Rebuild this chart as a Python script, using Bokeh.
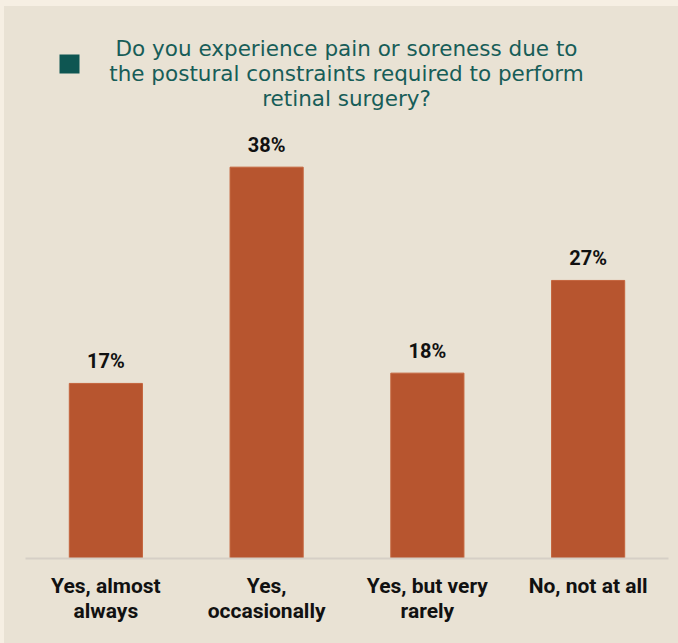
from bokeh.plotting import figure
from bokeh.models import ColumnDataSource, Range1d, Label, BoxAnnotation, Spacer
from bokeh.layouts import column, row
from bokeh.embed import file_html
from bokeh.resources import INLINE
from bokeh.core.properties import value

categories = ["Yes, almost\nalways", "Yes,\noccasionally", "Yes, but very\nrarely", "No, not at all"]
percent = [17, 38, 18, 27]
labels = ["17%", "38%", "18%", "27%"]
title_lines = ["Do you experience pain or soreness due to",
               "the postural constraints required to perform",
               "retinal surgery?"]

BG = "#e9e2d4"
LIGHT = "#f6efe3"
BAR = "#b7552f"
TEAL = "#175d58"

src = ColumnDataSource(dict(cat=categories, pct=percent, lab=labels))

p = figure(width=674, height=637, x_range=categories, y_range=Range1d(0, 53.6),
           output_backend="svg", toolbar_location=None,
           min_border_left=21, min_border_right=10, min_border_top=0, min_border_bottom=85)
p.background_fill_color = BG
p.border_fill_color = BG
p.outline_line_color = None
p.xgrid.grid_line_color = None
p.ygrid.grid_line_color = None
p.yaxis.visible = False
p.x_range.range_padding = 0.0

p.vbar(x="cat", top="pct", width=0.455, source=src, fill_color=BAR, line_color="#c4643d", line_width=1)
p.text(x="cat", y="pct", text="lab", source=src, text_align="center", text_baseline="bottom",
       y_offset=-10, text_font=value("Roboto"), text_font_style="bold", text_font_size="20px",
       text_color="#111111")

ax = p.xaxis[0]
ax.axis_line_color = "#d6cfc6"
ax.axis_line_width = 2
ax.major_tick_line_color = None
ax.minor_tick_line_color = None
ax.major_label_text_font = "Roboto"
ax.major_label_text_font_style = "bold"
ax.major_label_text_font_size = "21px"
ax.major_label_text_color = "#111111"
ax.major_label_text_line_height = 1.08
ax.major_label_standoff = 9

for i, t in enumerate(title_lines):
    p.add_layout(Label(x=321, y=510 - 25 * i, x_units="screen", y_units="screen", text=t,
                       text_align="center", text_baseline="middle", text_font="DejaVu Sans",
                       text_font_size="21.5px", text_color=TEAL))

p.add_layout(BoxAnnotation(left=34, right=54, top=504, bottom=485, left_units="screen",
                           right_units="screen", top_units="screen", bottom_units="screen",
                           fill_color="#0e5652", fill_alpha=1, line_color=None))

top = Spacer(width=678, height=6, styles={"background-color": LIGHT})
left = Spacer(width=4, height=637, styles={"background-color": LIGHT})
layout = column(top, row(left, p, spacing=0), spacing=0)
layout.styles = {"background-color": BG}

open("out.html", "w").write(file_html(layout, INLINE))
